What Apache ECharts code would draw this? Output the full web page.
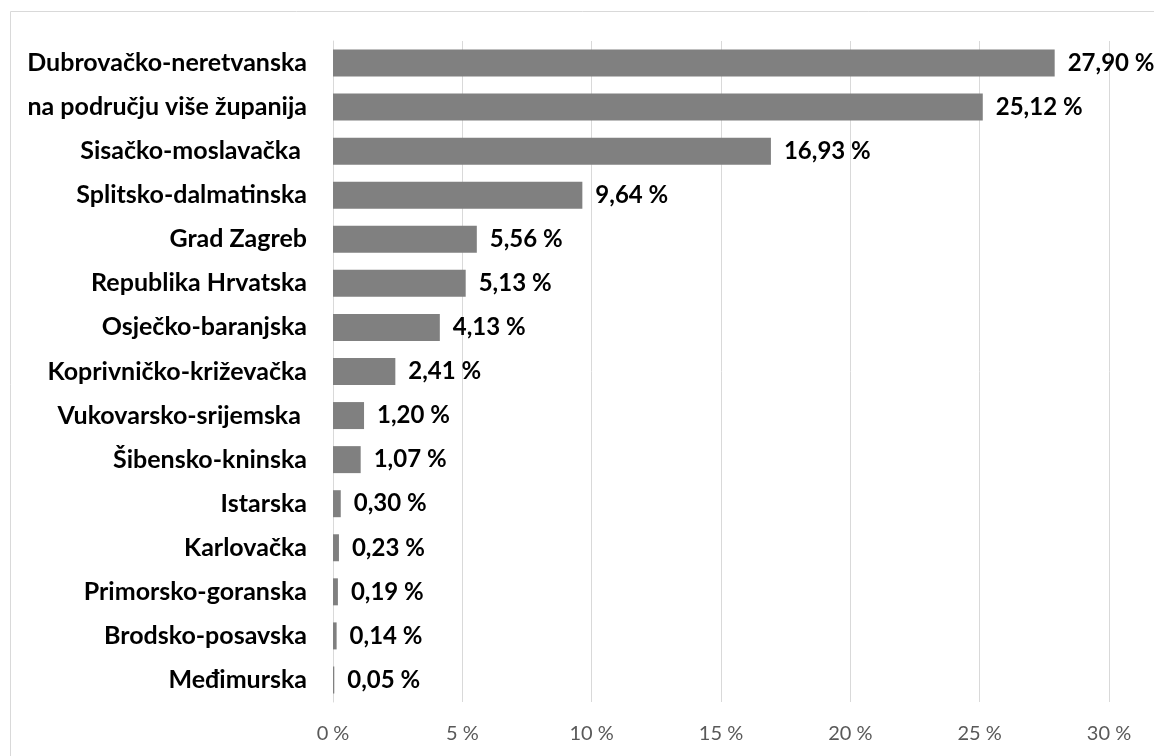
<!DOCTYPE html>
<html><head><meta charset="utf-8">
<script src="https://cdn.jsdelivr.net/npm/echarts@6/dist/echarts.min.js"></script>
<style>html,body{margin:0;padding:0;background:#fff}#c{width:1154px;height:756px}</style>
</head><body><div id="c"></div>
<script>
const categories = ["Dubrovačko-neretvanska","na području više županija","Sisačko-moslavačka ","Splitsko-dalmatinska","Grad Zagreb","Republika Hrvatska","Osječko-baranjska","Koprivničko-križevačka","Vukovarsko-srijemska ","Šibensko-kninska","Istarska","Karlovačka","Primorsko-goranska","Brodsko-posavska","Međimurska"];
const values = [27.90,25.12,16.93,9.64,5.56,5.13,4.13,2.41,1.20,1.07,0.30,0.23,0.19,0.14,0.05];
const xTicks = [0,5,10,15,20,25,30];

const font = "Lato, 'Open Sans', sans-serif";
const chart = echarts.init(document.getElementById('c'));
chart.setOption({
  animation:false,
  graphic:[{type:'rect',shape:{x:10.5,y:11.5,width:1300,height:900},style:{fill:null,stroke:'#d9d9d9',lineWidth:1},silent:true}],
  grid:{left:333,right:45,top:41,bottom:54,containLabel:false},
  xAxis:{type:'value',min:0,max:30,interval:5,
    axisLine:{show:false},axisTick:{show:false},
    splitLine:{lineStyle:{color:'#d9d9d9',width:1}},
    axisLabel:{formatter:v=>v+' %',color:'#595959',fontSize:20,fontFamily:font,margin:22}},
  yAxis:{type:'category',data:categories.slice().reverse(),inverse:false,
    axisLine:{show:true,lineStyle:{color:'#d9d9d9'}},axisTick:{show:false},
    axisLabel:{color:'#000',fontSize:25,fontWeight:'bold',fontFamily:font,margin:26}},
  series:[{type:'bar',data:values.slice().reverse(),barWidth:27,
    itemStyle:{color:'#808080'},
    label:{show:true,position:'right',distance:13,color:'#000',fontSize:24,fontWeight:'bold',fontFamily:font,
      formatter:p=>p.value.toFixed(2).replace('.',',')+' %'}}]
});
</script></body></html>
